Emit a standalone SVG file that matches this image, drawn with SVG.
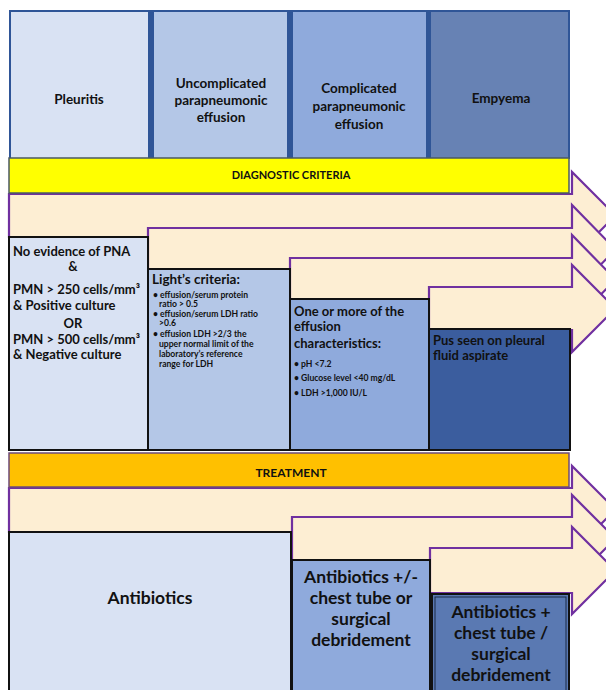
<svg xmlns="http://www.w3.org/2000/svg" width="606" height="690" viewBox="0 0 606 690">
<style>
text{font-family:Lato,"Liberation Sans",sans-serif;font-weight:bold;fill:#111}
.hd{font-size:13.5px;text-anchor:middle}
.bar{font-size:11px;text-anchor:middle}
.arrow{fill:#fdeed3;stroke:#7030a0;stroke-width:2.2;stroke-linejoin:miter}
.box{stroke:#111;stroke-width:2}
.t13{font-size:13px}
.t13c{font-size:13px;text-anchor:middle}
.sm{font-size:8.6px}
.big{font-size:17.5px;text-anchor:middle}
</style>
<rect width="606" height="690" fill="#ffffff"/>

<g id="header">
<rect x="9" y="10" width="561" height="149" fill="#2f5597"/>
<g id="h-pleuritis"><rect x="11" y="12" width="137" height="146" fill="#d9e2f3"/><text class="hd" x="79" y="104">Pleuritis</text></g>
<g id="h-uncomplicated"><rect x="154" y="12" width="133" height="146" fill="#b4c7e7"/><text class="hd" x="221" y="88">Uncomplicated</text><text class="hd" x="221" y="105">parapneumonic</text><text class="hd" x="221" y="122">effusion</text></g>
<g id="h-complicated"><rect x="293" y="12" width="133" height="146" fill="#8faadc"/><text class="hd" x="359" y="93">Complicated</text><text class="hd" x="359" y="111">parapneumonic</text><text class="hd" x="359" y="129">effusion</text></g>
<g id="h-empyema"><rect x="431" y="12" width="137" height="146" fill="#6782b4"/><text class="hd" x="501" y="103">Empyema</text></g>
</g>

<g id="connectors">
<polygon id="arrow-d1" class="arrow" points="9,194 572,194 572,172 615.5,215.5 572,259 572,237 9,237"/>
<polygon id="arrow-d2" class="arrow" points="148,228 572,228 572,205 615.5,249.5 572,294 572,271 148,271"/>
<polygon id="arrow-d3" class="arrow" points="290,258 572,258 572,235 615.5,279.5 572,324 572,301 290,301"/>
<polygon id="arrow-d4" class="arrow" points="429,287 572,287 572,265 615.5,308.5 572,352 572,330 429,330"/>
<polygon id="arrow-t1" class="arrow" points="9,488 572,488 572,466 615.5,509.5 572,553 572,532 9,532"/>
<polygon id="arrow-t2" class="arrow" points="292,517 572,517 572,495 615.5,538.5 572,582 572,560 292,560"/>
<polygon id="arrow-t3" class="arrow" points="430,548 572,548 572,527 615.5,570.5 572,614 572,593 430,593"/>
</g>

<g id="diagnostic-bar">
<rect x="9" y="158" width="560" height="35" fill="#ffff00" stroke="#4b5a63" stroke-width="1.5"/>
<text class="bar" x="291" y="179">DIAGNOSTIC CRITERIA</text>
</g>

<g id="d-pleuritis">
<rect class="box" x="9" y="237" width="139" height="213" fill="#d9e2f3"/>
<text class="t13" x="13" y="256">No evidence of PNA</text>
<text class="t13c" x="73" y="271">&amp;</text>
<text class="t13" x="13" y="294">PMN &gt; 250 cells/mm³</text>
<text class="t13" x="13" y="310">&amp; Positive culture</text>
<text class="t13c" x="73" y="328">OR</text>
<text class="t13" x="13" y="344">PMN &gt; 500 cells/mm³</text>
<text class="t13" x="13" y="359">&amp; Negative culture</text>
</g>

<g id="d-uncomplicated">
<rect class="box" x="148" y="269" width="142" height="181" fill="#b4c7e7"/>
<text class="t13" x="152" y="284" style="font-size:13.5px">Light’s criteria:</text>
<text class="sm" x="153" y="298">• effusion/serum protein</text>
<text class="sm" x="159" y="307">ratio &gt; 0.5</text>
<text class="sm" x="153" y="317">• effusion/serum LDH ratio</text>
<text class="sm" x="159" y="326">&gt;0.6</text>
<text class="sm" x="153" y="337">• effusion LDH &gt;2/3 the</text>
<text class="sm" x="159" y="347">upper normal limit of the</text>
<text class="sm" x="159" y="357">laboratory’s reference</text>
<text class="sm" x="159" y="367">range for LDH</text>
</g>

<g id="d-complicated">
<rect class="box" x="290" y="299" width="139" height="151" fill="#8faadc"/>
<text class="t13" x="294" y="316">One or more of the</text>
<text class="t13" x="294" y="331">effusion</text>
<text class="t13" x="294" y="348">characteristics:</text>
<text class="sm" x="294" y="367">• pH &lt;7.2</text>
<text class="sm" x="294" y="381">• Glucose level &lt;40 mg/dL</text>
<text class="sm" x="294" y="396">• LDH &gt;1,000 IU/L</text>
</g>

<g id="d-empyema">
<rect class="box" x="429" y="329" width="141" height="121" fill="#3b5d9e"/>
<text class="t13" x="433" y="345">Pus seen on pleural</text>
<text class="t13" x="433" y="360">fluid aspirate</text>
</g>

<g id="treatment-bar">
<rect x="9" y="453" width="560" height="34" fill="#ffc000" stroke="#6c4a7a" stroke-width="1.5"/>
<text class="bar" x="291" y="477" style="font-size:12px">TREATMENT</text>
</g>

<g id="t-pleuritis">
<rect class="box" x="9" y="532" width="282" height="170" fill="#d9e2f3"/>
<text class="big" x="150" y="604">Antibiotics</text>
</g>

<g id="t-complicated">
<rect class="box" x="292" y="560" width="138" height="140" fill="#8faadc"/>
<text class="big" x="361" y="583">Antibiotics +/-</text>
<text class="big" x="361" y="604">chest tube or</text>
<text class="big" x="361" y="625">surgical</text>
<text class="big" x="361" y="646">debridement</text>
</g>

<g id="t-empyema">
<rect class="box" x="432" y="594" width="137" height="110" fill="#5a79b2"/>
<rect x="435" y="597" width="131" height="110" fill="none" stroke="#1a2a44" stroke-width="1"/>
<text class="big" x="501" y="618">Antibiotics +</text>
<text class="big" x="501" y="639">chest tube /</text>
<text class="big" x="501" y="660">surgical</text>
<text class="big" x="501" y="681">debridement</text>
</g>
</svg>
